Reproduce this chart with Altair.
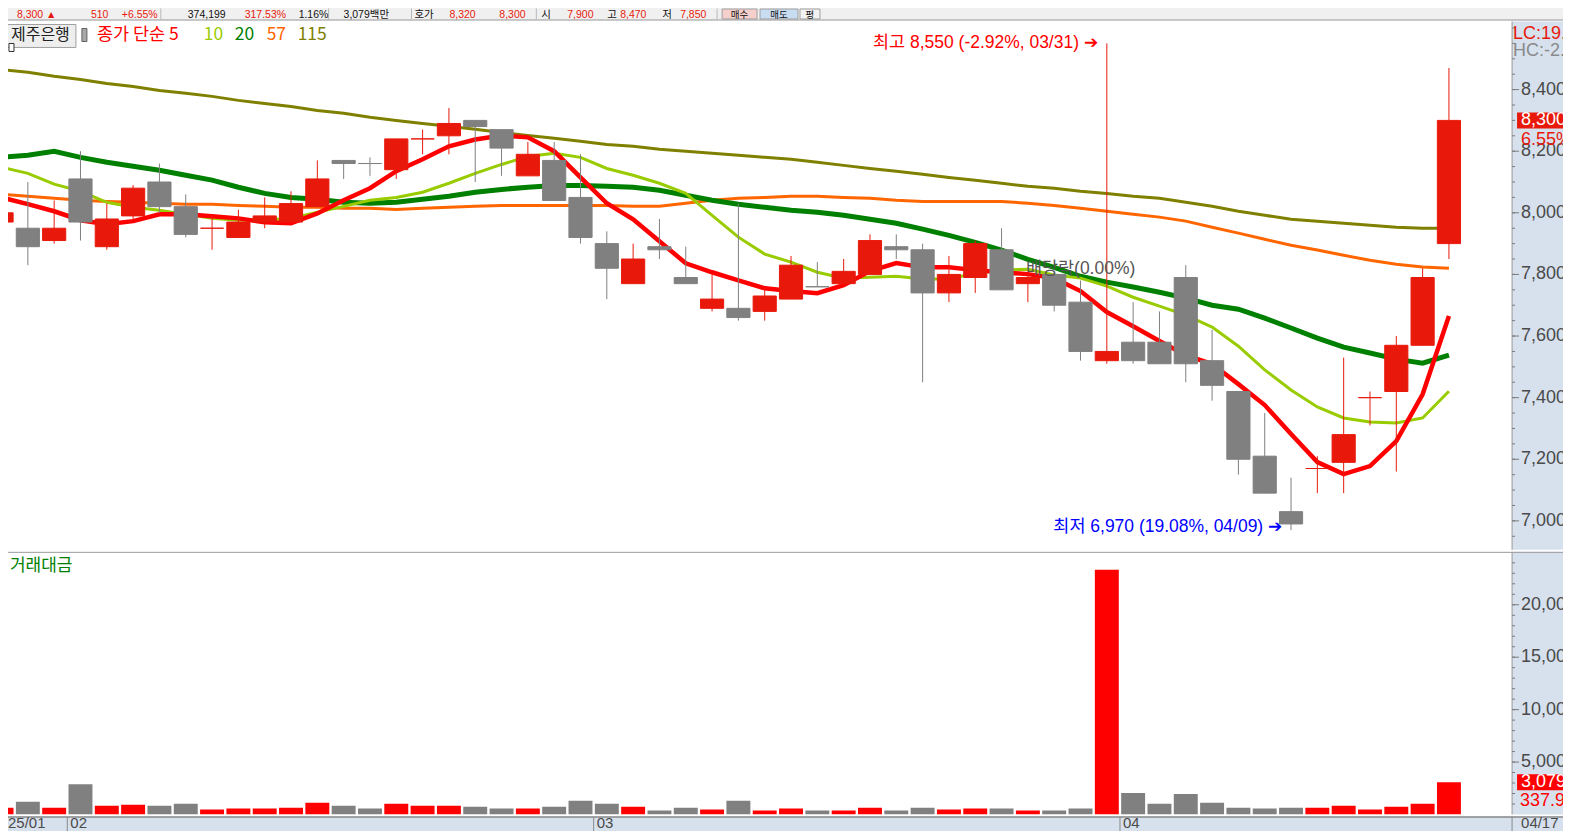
import altair as alt
import pandas as pd

# ---------------- data ----------------
dates = ["01/23","01/24","01/31","02/03","02/04","02/05","02/06","02/07","02/10","02/11",
         "02/12","02/13","02/14","02/17","02/18","02/19","02/20","02/21","02/24","02/25",
         "02/26","02/27","02/28","03/04","03/05","03/06","03/07","03/10","03/11","03/12",
         "03/13","03/14","03/17","03/18","03/19","03/20","03/21","03/24","03/25","03/26",
         "03/27","03/28","03/31","04/01","04/02","04/03","04/04","04/07","04/08","04/09",
         "04/10","04/11","04/14","04/15","04/16","04/17"]
opens = [7970,7950,7910,8110,7890,7990,8100,8020,7950,7920,
         7970,7970,8020,8170,8160,8140,8240,8250,8300,8270,
         8120,8170,8050,7900,7770,7890,7790,7690,7690,7680,
         7720,7760,7770,7800,7890,7880,7740,7790,7880,7770,
         7800,7710,7520,7580,7580,7790,7520,7420,7210,7030,
         7170,7190,7400,7420,7570,7900]
highs = [8060,8100,8040,8200,8030,8090,8160,8060,7990,8010,
         8050,8070,8170,8170,8180,8240,8270,8340,8300,8270,
         8230,8230,8190,7940,7900,7980,7890,7800,8030,7750,
         7860,7840,7850,7930,7930,7900,7860,7910,7950,7800,
         7810,7780,8550,7710,7680,7830,7620,7420,7350,7140,
         7210,7530,7420,7600,7820,8470]
lows = [7950,7830,7900,7910,7880,7980,8000,7920,7880,7920,
        7950,7970,8020,8110,8120,8110,8190,8190,8100,8120,
        8120,8040,7900,7720,7770,7850,7770,7680,7650,7650,
        7720,7760,7770,7800,7850,7450,7710,7740,7750,7710,
        7680,7520,7510,7510,7510,7450,7390,7150,7090,6970,
        7090,7090,7310,7160,7570,7850]
closes = [8000,7890,7950,7970,7980,8080,8020,7930,7950,7970,
          7990,8030,8110,8160,8160,8240,8240,8290,8280,8210,
          8190,8040,7920,7820,7850,7880,7770,7720,7660,7730,
          7830,7760,7810,7910,7880,7740,7800,7900,7750,7790,
          7700,7550,7550,7520,7510,7510,7440,7200,7090,6990,
          7170,7280,7400,7570,7790,8300]
direction = ["up","down","up","down","up","up","down","down","up","up",
             "up","up","up","down","down","up","up","up","down","down",
             "up","down","down","down","up","down","down","up","down","up",
             "up","down","up","up","down","down","up","up","down","up",
             "down","down","up","down","down","down","down","down","down","down",
             "up","up","up","up","up","up"]
volume = [650,1210,650,2890,840,930,840,1030,470,560,
          560,650,1120,840,560,1030,840,840,750,560,
          560,750,1310,1030,750,370,650,470,1310,370,
          560,370,370,650,370,650,470,560,560,370,
          370,560,23330,2050,1030,1960,1120,650,560,650,
          650,840,470,750,1030,3079]
ma5 = [8050,8028,8005,7976,7963,7973,7995,7995,7989,7982,
       7969,7966,7998,8041,8080,8135,8174,8216,8238,8251,
       8245,8200,8115,8031,7979,7908,7836,7807,7781,7755,
       7746,7739,7765,7811,7837,7823,7823,7814,7807,7801,
       7788,7746,7678,7632,7584,7538,7509,7444,7376,7282,
       7191,7152,7178,7259,7411,7665]
ma10 = [8148,8128,8093,8070,8034,8018,8008,7995,7982,7976,
        7976,7982,8002,8021,8041,8050,8067,8096,8128,8157,
        8183,8193,8180,8144,8122,8096,8063,7992,7921,7866,
        7840,7807,7788,7791,7794,7785,7785,7804,7814,7817,
        7798,7788,7762,7726,7697,7668,7629,7567,7490,7425,
        7370,7334,7321,7318,7334,7421]
ma20 = [8180,8187,8200,8180,8164,8151,8138,8122,8106,8083,
        8063,8050,8044,8034,8031,8034,8044,8054,8067,8076,
        8083,8089,8089,8086,8083,8073,8057,8041,8028,8018,
        8008,8002,7992,7979,7966,7947,7927,7904,7879,7849,
        7823,7794,7775,7759,7742,7723,7700,7687,7658,7626,
        7593,7564,7545,7525,7512,7538]
ma57 = [8060,8054,8047,8041,8037,8034,8031,8028,8028,8024,
        8021,8018,8018,8015,8015,8011,8015,8018,8021,8024,
        8024,8024,8024,8024,8021,8021,8031,8041,8047,8050,
        8054,8054,8050,8047,8041,8037,8037,8037,8037,8031,
        8024,8015,8005,7995,7986,7973,7953,7934,7914,7895,
        7879,7862,7846,7833,7824,7820]
ma115 = [8465,8456,8443,8433,8420,8410,8397,8388,8378,8365,
         8355,8345,8332,8323,8310,8300,8290,8281,8271,8261,
         8251,8242,8232,8222,8216,8206,8200,8193,8187,8180,
         8174,8164,8154,8144,8135,8125,8115,8106,8096,8086,
         8080,8070,8063,8054,8047,8034,8021,8005,7992,7979,
         7973,7966,7960,7953,7950,7950]

price_ticks = [7000, 7200, 7400, 7600, 7800, 8000, 8200, 8400]
price_tick_labels = ["7,000", "7,200", "7,400", "7,600", "7,800", "8,000", "8,200", "8,400"]
price_minor = [6950 + 50 * k for k in range(34)]
vol_ticks = [5000, 10000, 15000, 20000]
vol_tick_labels = ["5,000", "10,000", "15,000", "20,000"]
vol_minor = [1000 * k for k in range(1, 25)]
month_pos = [-0.5, 2.5, 22.5, 42.5]
month_labels = ["2025/01", "02", "03", "04"]

# ---------------- layout / style ----------------
# Laid out at the window's own 1571x833 size; a negative padding cancels the page's
# 8px margin so the panels land where they are in the reference.
W = 1571
STRIP_X = 1513
H_HEAD, H_PRICE, H_VOL, H_AXIS = 20, 529, 263, 21

RED = "#e8190b"
VRED = "#ff0000"
GRAY = "#808080"
STRIP_BG = "#d7e1ee"
AXIS_TXT = "#4a4a4a"
FNUM = "Liberation Sans, Noto Sans CJK KR, sans-serif"
FKR = "Noto Sans CJK KR, sans-serif"

X_SCALE = alt.Scale(domain=[-0.02, 59.6], nice=False, zero=False)
P_SCALE = alt.Scale(domain=[6906, 8621], nice=False, zero=False)
V_SCALE = alt.Scale(domain=[0, 25048], nice=False, zero=False)


def one():
    return alt.Chart(pd.DataFrame({"a": [1]}))


def vtext(text, x, y, color, size=13, font=FNUM, align="left"):
    return one().mark_text(text=text, align=align, baseline="middle", fontSize=size,
                           font=font, color=color).encode(
        x=alt.value(x), y=alt.value(y))


def vrect(x1, x2, y1, y2, fill, stroke=None):
    kw = {"fill": fill}
    if stroke:
        kw.update(stroke=stroke, strokeWidth=1)
    return one().mark_rect(**kw).encode(x=alt.value(x1), x2=alt.value(x2),
                                        y=alt.value(y1), y2=alt.value(y2))


def vline(x1, x2, y1, y2, color, width=1):
    return one().mark_rule(color=color, strokeWidth=width).encode(
        x=alt.value(x1), x2=alt.value(x2), y=alt.value(y1), y2=alt.value(y2))


df = pd.DataFrame({
    "idx": list(range(len(dates))), "date": dates, "open": opens, "high": highs,
    "low": lows, "close": closes, "dir": direction, "vol": volume,
    "ma5": ma5, "ma10": ma10, "ma20": ma20, "ma57": ma57, "ma115": ma115,
})
df["xl"] = df["idx"] - 0.44
df["xr"] = df["idx"] + 0.44
df["vxl"] = df["idx"] - 0.455
df["vxr"] = df["idx"] + 0.455
df["zero"] = 0

X = alt.X("idx:Q", scale=X_SCALE, axis=None)

# ---------------- header bar (only its lower 12px fall inside the window) ----------------
BLACK = "#111111"
HY = 14.2
head_items = [("8,300 ▲", 16, RED), ("510", 90, RED), ("+6.55%", 121, RED),
              ("374,199", 187, BLACK), ("317.53%", 244, RED), ("1.16%", 298, BLACK),
              ("3,079백만", 343, BLACK), ("호가", 414, BLACK), ("8,320", 449, RED),
              ("8,300", 499, RED), ("시", 541, BLACK), ("7,900", 567, RED),
              ("고", 607, BLACK), ("8,470", 620, RED), ("저", 662, BLACK),
              ("7,850", 680, RED)]
head_layers = [vrect(0, W, 0, H_HEAD, "#f0f0f0"), vline(0, W, H_HEAD - 0.5, H_HEAD - 0.5, "#9a9a9a")]
for sx in [160, 328, 411, 536, 717]:
    head_layers.append(vline(sx, sx, 8, H_HEAD - 1, "#b8b8b8"))
for t, x, c in head_items:
    head_layers.append(vtext(t, x, HY, c, size=10.5))
for t, x1, x2, bg in [("매수", 722, 757, "#f4cfcc"), ("매도", 760, 798, "#c8dcf2"), ("평", 800, 820, "#f2f2f2")]:
    head_layers.append(vrect(x1, x2, 8.5, H_HEAD - 1.5, bg, "#a0a0a0"))
    head_layers.append(vtext(t, (x1 + x2) / 2, HY, BLACK, size=9.5, font=FKR, align="center"))
header = alt.layer(*head_layers).properties(width=W, height=H_HEAD)

# ---------------- price panel ----------------
base = alt.Chart(df)


def PY_ENC(f):
    return alt.Y(f, scale=P_SCALE, axis=None)


ma_lines = []
for col, colr, sw in [("ma115", "#808000", 3), ("ma57", "#ff6600", 3),
                      ("ma20", "#008000", 5), ("ma10", "#99cc00", 3), ("ma5", "#ff0000", 4.5)]:
    ma_lines.append(base.mark_line(color=colr, strokeWidth=sw, clip=True).encode(
        x=X, y=PY_ENC(col + ":Q")))

candle_layers = []
for d, c in [("up", RED), ("down", GRAY)]:
    sub = base.transform_filter(alt.datum.dir == d)
    candle_layers.append(sub.mark_rule(strokeWidth=1, color=c, clip=True).encode(
        x=X, y=PY_ENC("low:Q"), y2="high:Q"))
    candle_layers.append(sub.mark_rect(fill=c, stroke=c, strokeWidth=1, clip=True).encode(
        x=alt.X("xl:Q", scale=X_SCALE, axis=None), x2="xr:Q",
        y=PY_ENC("open:Q"), y2="close:Q"))

i_hi = highs.index(max(highs))
i_lo = lows.index(min(lows))
last = closes[-1]
hi_txt = "최고 {:,} ({:.2f}%, {}) ➔".format(max(highs), (last / max(highs) - 1) * 100, dates[i_hi])
lo_txt = "최저 {:,} ({:.2f}%, {}) ➔".format(min(lows), (last / min(lows) - 1) * 100, dates[i_lo])

ann_df = pd.DataFrame({
    "x": [i_hi, i_lo], "y": [max(highs), min(lows)], "t": [hi_txt, lo_txt], "k": ["hi", "lo"]})
ann_hi = alt.Chart(ann_df).transform_filter(alt.datum.k == "hi").mark_text(
    align="right", baseline="middle", dx=-9, fontSize=17.5, font=FNUM, color="#ff0000").encode(
    x=alt.X("x:Q", scale=X_SCALE, axis=None), y=PY_ENC("y:Q"), text="t:N")
ann_lo = alt.Chart(ann_df).transform_filter(alt.datum.k == "lo").mark_text(
    align="right", baseline="middle", dx=-9, dy=-3, fontSize=17.5, font=FNUM, color="#0000ff").encode(
    x=alt.X("x:Q", scale=X_SCALE, axis=None), y=PY_ENC("y:Q"), text="t:N")
div_df = pd.DataFrame({"x": [39], "y": [7817], "t": ["배당락(0.00%)"]})
ann_div = alt.Chart(div_df).mark_text(
    align="left", baseline="middle", dx=-2, fontSize=17.5, font=FNUM, color="#555555").encode(
    x=alt.X("x:Q", scale=X_SCALE, axis=None), y=PY_ENC("y:Q"), text="t:N")

tick_df = pd.DataFrame({"v": price_ticks, "lab": price_tick_labels})
minor_df = pd.DataFrame({"v": price_minor})
p_minor = alt.Chart(minor_df).mark_rule(color="#7a7a7a", clip=True).encode(
    x=alt.value(STRIP_X), x2=alt.value(STRIP_X + 3), y=PY_ENC("v:Q"))
p_major = alt.Chart(tick_df).mark_rule(color="#7a7a7a", clip=True).encode(
    x=alt.value(STRIP_X), x2=alt.value(STRIP_X + 7), y=PY_ENC("v:Q"))
p_labels = alt.Chart(tick_df).mark_text(align="left", baseline="middle", fontSize=18,
                                        font=FNUM, color=AXIS_TXT, clip=True).encode(
    x=alt.value(STRIP_X + 9), y=PY_ENC("v:Q"), text="lab:N")

cur_df = pd.DataFrame({"v": [last], "lo": [last - 26], "hi": [last + 26],
                       "t": ["{:,}".format(last)], "pct": ["6.55%"]})
cur_box = alt.Chart(cur_df).mark_rect(fill=RED, clip=True).encode(
    x=alt.value(STRIP_X + 5), x2=alt.value(W - 3), y=PY_ENC("lo:Q"), y2="hi:Q")
cur_txt = alt.Chart(cur_df).mark_text(
    align="left", baseline="middle", fontSize=18, font=FNUM,
    color="white", clip=True).encode(x=alt.value(STRIP_X + 9), y=PY_ENC("v:Q"), text="t:N")
cur_pct = alt.Chart(cur_df).mark_text(
    align="left", baseline="middle", dy=20, fontSize=18, font=FNUM,
    color=RED, clip=True).encode(x=alt.value(STRIP_X + 9), y=PY_ENC("v:Q"), text="pct:N")

lc_txt = "LC:{:.2f}%".format((last / min(lows) - 1) * 100)
hc_txt = "HC:{:.2f}%".format((last / max(highs) - 1) * 100)
# LC / HC labels sit at the top of the price scale, just under the panel's upper edge
corner_df = pd.DataFrame({"v": [8582, 8524], "t": [lc_txt, hc_txt], "k": ["lc", "hc"]})
lc_lab = alt.Chart(corner_df).transform_filter(alt.datum.k == "lc").mark_text(
    align="left", baseline="middle", fontSize=18, font=FNUM, color=RED, clip=True).encode(
    x=alt.value(STRIP_X + 1), y=PY_ENC("v:Q"), text="t:N")
hc_lab = alt.Chart(corner_df).transform_filter(alt.datum.k == "hc").mark_text(
    align="left", baseline="middle", fontSize=18, font=FNUM, color="#8a8a8a", clip=True).encode(
    x=alt.value(STRIP_X + 1), y=PY_ENC("v:Q"), text="t:N")

price_layers = [
    vrect(STRIP_X, W, 0, H_PRICE, STRIP_BG),
    *ma_lines, *candle_layers, ann_hi, ann_lo, ann_div,
    vline(STRIP_X, STRIP_X, 0, H_PRICE, "#9a9a9a"),
    p_minor, p_major, p_labels, cur_box, cur_txt, cur_pct, lc_lab, hc_lab,
    vrect(0, 75, 3, 26, "#eeeeee", "#a0a0a0"),
    vtext("제주은행", 10, 14, "#202020", size=16, font=FKR),
    vrect(8, 13, 22, 30, "#ffffff", "#303030"),
    vrect(81, 86, 7, 20, "#a8a8a8", "#606060"),
    vtext("종가 단순 5", 96, 14, "#ff0000", size=17.5, font=FKR),
    vtext("10", 203, 14, "#99cc00", size=17.5, font=FKR),
    vtext("20", 234, 14, "#008000", size=17.5, font=FKR),
    vtext("57", 266, 14, "#ff6600", size=17.5, font=FKR),
    vtext("115", 297, 14, "#808000", size=17.5, font=FKR),
]
price = alt.layer(*price_layers).properties(width=W, height=H_PRICE)

# ---------------- volume panel ----------------
def VY_ENC(f):
    return alt.Y(f, scale=V_SCALE, axis=None)


vol_bar_layers = []
for d, c in [("up", VRED), ("down", GRAY)]:
    vol_bar_layers.append(base.transform_filter(alt.datum.dir == d).mark_rect(
        fill=c, clip=True).encode(
        x=alt.X("vxl:Q", scale=X_SCALE, axis=None), x2="vxr:Q",
        y=VY_ENC("vol:Q"), y2="zero:Q"))

vtick_df = pd.DataFrame({"v": vol_ticks, "lab": vol_tick_labels})
vminor_df = pd.DataFrame({"v": vol_minor})
v_minor = alt.Chart(vminor_df).mark_rule(color="#7a7a7a", clip=True).encode(
    x=alt.value(STRIP_X), x2=alt.value(STRIP_X + 3), y=VY_ENC("v:Q"))
v_major = alt.Chart(vtick_df).mark_rule(color="#7a7a7a", clip=True).encode(
    x=alt.value(STRIP_X), x2=alt.value(STRIP_X + 7), y=VY_ENC("v:Q"))
v_labels = alt.Chart(vtick_df).mark_text(align="left", baseline="middle", fontSize=18,
                                         font=FNUM, color=AXIS_TXT, clip=True).encode(
    x=alt.value(STRIP_X + 9), y=VY_ENC("v:Q"), text="lab:N")
vlast = volume[-1]
vcur_df = pd.DataFrame({"v": [vlast], "lo": [vlast - 762], "hi": [vlast + 762],
                        "t": ["{:,}".format(vlast)], "s": ["337.98"]})
v_box = alt.Chart(vcur_df).mark_rect(fill="#ff0000", clip=True).encode(
    x=alt.value(STRIP_X + 5), x2=alt.value(W), y=VY_ENC("lo:Q"), y2="hi:Q")
v_txt = alt.Chart(vcur_df).mark_text(
    align="left", baseline="middle", fontSize=18, font=FNUM,
    color="white", clip=True).encode(x=alt.value(STRIP_X + 9), y=VY_ENC("v:Q"), text="t:N")
v_sub = alt.Chart(vcur_df).mark_text(
    align="left", baseline="middle", dy=19, fontSize=18, font=FNUM,
    color="#ff0000", clip=True).encode(x=alt.value(STRIP_X + 8), y=VY_ENC("v:Q"), text="s:N")

vol_layers = [
    vrect(STRIP_X, W, 0, H_VOL, STRIP_BG),
    *vol_bar_layers,
    vline(0, W, 0.5, 0.5, "#9a9a9a"),
    vline(STRIP_X, STRIP_X, 0, H_VOL, "#9a9a9a"),
    v_minor, v_major, v_labels, v_box, v_txt, v_sub,
    vtext("거래대금", 9, 14, "#008000", size=17, font=FKR),
]
vol = alt.layer(*vol_layers).properties(width=W, height=H_VOL)

# ---------------- date strip (only its top 13px fall inside the window) ----------------
SY = 6.5
mdf = pd.DataFrame({"p": month_pos, "lab": month_labels})
m_rules = alt.Chart(mdf).mark_rule(color="#8a8a8a", clip=True).encode(
    x=alt.X("p:Q", scale=X_SCALE, axis=None), y=alt.value(0), y2=alt.value(H_AXIS))
m_text = alt.Chart(mdf).mark_text(align="left", baseline="middle", dx=3, fontSize=15,
                                  font=FNUM, color=AXIS_TXT, clip=True).encode(
    x=alt.X("p:Q", scale=X_SCALE, axis=None), y=alt.value(SY), text="lab:N")
axis_layers = [
    vrect(0, W, 0, H_AXIS, STRIP_BG),
    vline(0, W, 0.5, 0.5, "#8a8a8a", 1.5),
    m_rules, m_text,
    vline(STRIP_X, STRIP_X, 0, H_AXIS, "#8a8a8a"),
    vtext(dates[-1], STRIP_X + 9, SY, AXIS_TXT, size=15),
]
axis_strip = alt.layer(*axis_layers).properties(width=W, height=H_AXIS)

chart = alt.vconcat(header, price, vol, axis_strip, spacing=0).properties(
    padding={"left": -8, "top": -8, "right": -8, "bottom": -8},
    background="white").configure_view(stroke=None)

chart.save("out.html", embed_options={"renderer": "svg", "actions": False})
